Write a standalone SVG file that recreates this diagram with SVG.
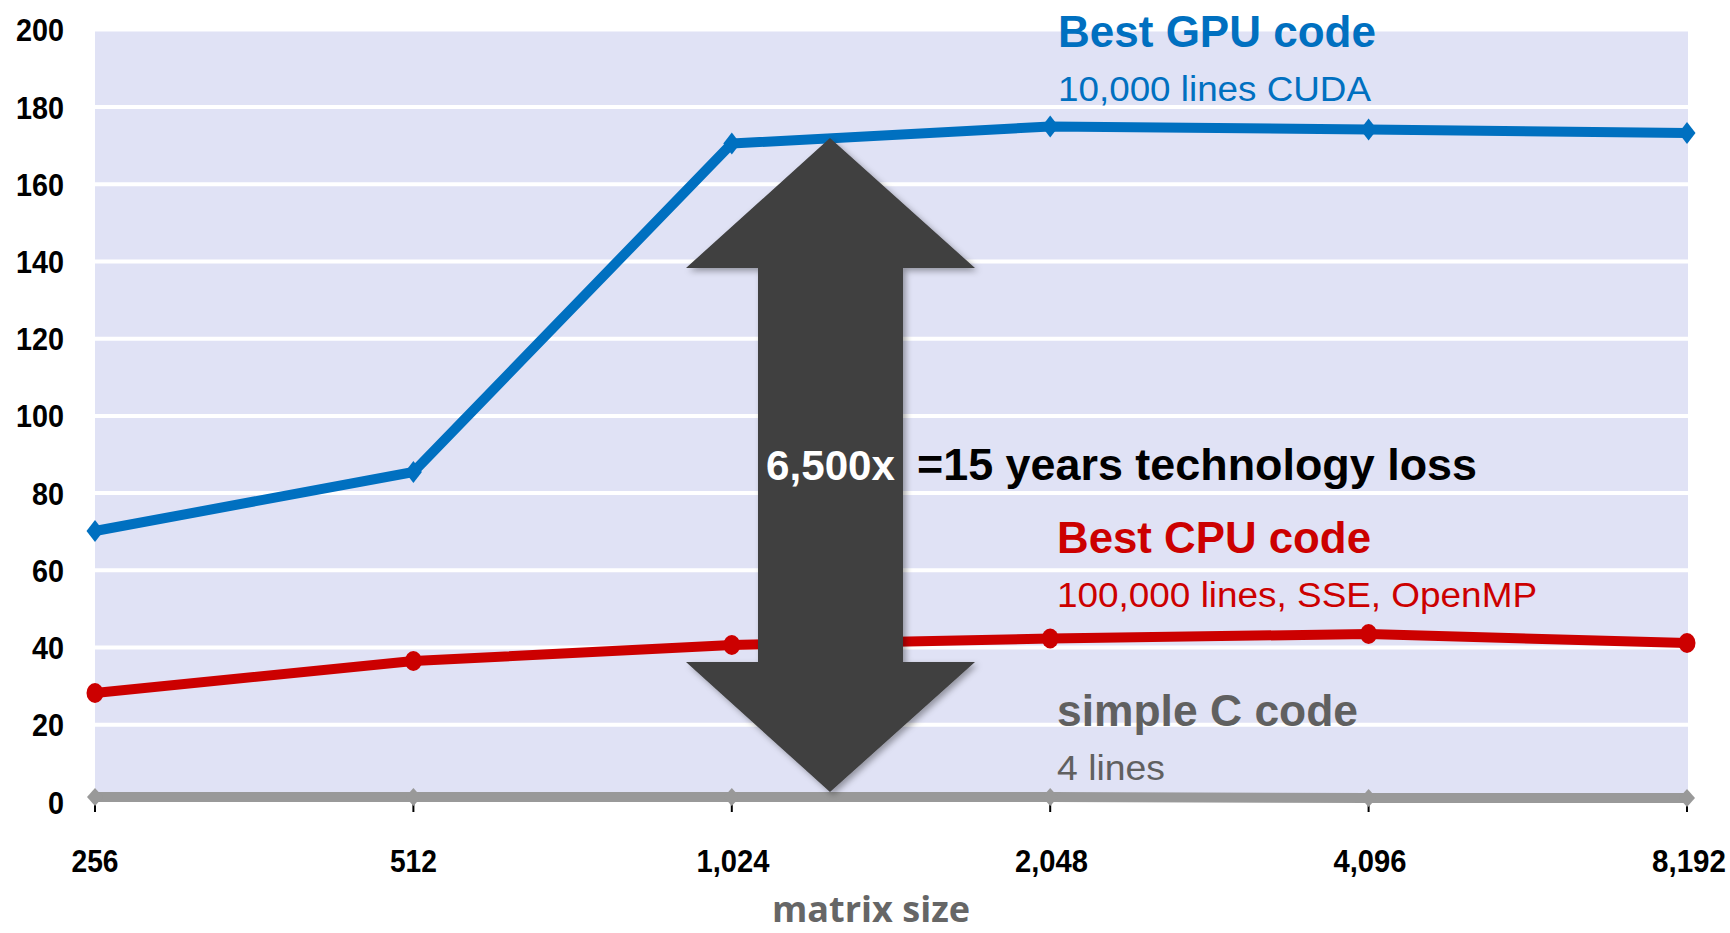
<svg xmlns="http://www.w3.org/2000/svg" width="1730" height="933" viewBox="0 0 1730 933">
  <defs>
    <style>
      .grid { stroke: #FFFFFF; stroke-width: 4; }
      .ylab { font-family: "Liberation Sans", Arial, sans-serif; font-weight: bold; font-size: 32px; fill: #000; text-anchor: end; }
      .xlab { font-family: "Liberation Sans", Arial, sans-serif; font-weight: bold; font-size: 32px; fill: #000; text-anchor: middle; }
      .tick { stroke: #000; stroke-width: 2; }
      .series { fill: none; stroke-width: 10; stroke-linejoin: round; stroke-linecap: butt; }
      .head { font-family: "Liberation Sans", Arial, sans-serif; font-weight: bold; font-size: 44px; }
      .sub { font-family: "Liberation Sans", Arial, sans-serif; font-size: 35px; }
    </style>
    <filter id="shadow" x="-20%" y="-10%" width="140%" height="120%">
      <feDropShadow dx="3" dy="3" stdDeviation="3" flood-color="#000" flood-opacity="0.35"/>
    </filter>
  </defs>

  <rect width="1730" height="933" fill="#FFFFFF"/>

  <g id="plot-area">
    <rect x="95" y="31.5" width="1593" height="770" fill="#E0E2F5"/>
    <line class="grid" x1="95" x2="1688" y1="724.8" y2="724.8"/>
    <line class="grid" x1="95" x2="1688" y1="647.6" y2="647.6"/>
    <line class="grid" x1="95" x2="1688" y1="570.3" y2="570.3"/>
    <line class="grid" x1="95" x2="1688" y1="493.1" y2="493.1"/>
    <line class="grid" x1="95" x2="1688" y1="415.9" y2="415.9"/>
    <line class="grid" x1="95" x2="1688" y1="338.7" y2="338.7"/>
    <line class="grid" x1="95" x2="1688" y1="261.5" y2="261.5"/>
    <line class="grid" x1="95" x2="1688" y1="184.2" y2="184.2"/>
    <line class="grid" x1="95" x2="1688" y1="107" y2="107"/>
  </g>

  <g id="y-axis">
    <text class="ylab" x="64" y="813.5" textLength="16" lengthAdjust="spacingAndGlyphs">0</text>
    <text class="ylab" x="64" y="736.3" textLength="32" lengthAdjust="spacingAndGlyphs">20</text>
    <text class="ylab" x="64" y="659.1" textLength="32" lengthAdjust="spacingAndGlyphs">40</text>
    <text class="ylab" x="64" y="581.8" textLength="32" lengthAdjust="spacingAndGlyphs">60</text>
    <text class="ylab" x="64" y="504.6" textLength="32" lengthAdjust="spacingAndGlyphs">80</text>
    <text class="ylab" x="64" y="427.4" textLength="48" lengthAdjust="spacingAndGlyphs">100</text>
    <text class="ylab" x="64" y="350.2" textLength="48" lengthAdjust="spacingAndGlyphs">120</text>
    <text class="ylab" x="64" y="273" textLength="48" lengthAdjust="spacingAndGlyphs">140</text>
    <text class="ylab" x="64" y="195.7" textLength="48" lengthAdjust="spacingAndGlyphs">160</text>
    <text class="ylab" x="64" y="118.5" textLength="48" lengthAdjust="spacingAndGlyphs">180</text>
    <text class="ylab" x="64" y="41.3" textLength="48" lengthAdjust="spacingAndGlyphs">200</text>
  </g>

  <g id="x-axis">
    <line class="tick" x1="95" x2="95" y1="800" y2="812"/>
    <line class="tick" x1="413.4" x2="413.4" y1="800" y2="812"/>
    <line class="tick" x1="731.8" x2="731.8" y1="800" y2="812"/>
    <line class="tick" x1="1050.2" x2="1050.2" y1="800" y2="812"/>
    <line class="tick" x1="1368.6" x2="1368.6" y1="800" y2="812"/>
    <line class="tick" x1="1687" x2="1687" y1="800" y2="812"/>
    <text class="xlab" x="95" y="872" textLength="47" lengthAdjust="spacingAndGlyphs">256</text>
    <text class="xlab" x="413.4" y="872" textLength="47" lengthAdjust="spacingAndGlyphs">512</text>
    <text class="xlab" x="733" y="872" textLength="73" lengthAdjust="spacingAndGlyphs">1,024</text>
    <text class="xlab" x="1051.5" y="872" textLength="73" lengthAdjust="spacingAndGlyphs">2,048</text>
    <text class="xlab" x="1370" y="872" textLength="73" lengthAdjust="spacingAndGlyphs">4,096</text>
    <text class="xlab" x="1689" y="872" textLength="74" lengthAdjust="spacingAndGlyphs">8,192</text>
    <text x="871" y="922" font-family="'Open Sans', 'Liberation Sans', sans-serif" font-weight="bold" font-size="35" fill="#666666" text-anchor="middle" textLength="198" lengthAdjust="spacingAndGlyphs">matrix size</text>
  </g>

  <g id="series-simple-c">
    <polyline class="series" stroke="#999999" points="95,797 413.4,797 731.8,797 1050.2,797 1368.6,798 1687,798"/>
    <g fill="#999999">
      <polygon points="87,797 95,788 103,797 95,806"/>
      <polygon points="405.4,797 413.4,788 421.4,797 413.4,806"/>
      <polygon points="723.8,797 731.8,788 739.8,797 731.8,806"/>
      <polygon points="1042.2,797 1050.2,788 1058.2,797 1050.2,806"/>
      <polygon points="1360.6,798 1368.6,789 1376.6,798 1368.6,807"/>
      <polygon points="1679,798 1687,789 1695,798 1687,807"/>
    </g>
  </g>

  <g id="series-cpu">
    <polyline class="series" stroke="#CC0000" points="95,693 413.4,661 731.8,645 1050.2,638.5 1368.6,634 1687,643"/>
    <g fill="#CC0000">
      <ellipse cx="95" cy="693" rx="8.5" ry="10"/>
      <ellipse cx="413.4" cy="661" rx="8.5" ry="10"/>
      <ellipse cx="731.8" cy="645" rx="8.5" ry="10"/>
      <ellipse cx="1050.2" cy="638.5" rx="8.5" ry="10"/>
      <ellipse cx="1368.6" cy="634" rx="8.5" ry="10"/>
      <ellipse cx="1687" cy="643" rx="8.5" ry="10"/>
    </g>
  </g>

  <g id="series-gpu">
    <polyline class="series" stroke="#0070C0" points="95,531 413.4,472 731.8,143.5 1050.2,126.5 1368.6,129.5 1687,133"/>
    <g fill="#0070C0">
      <polygon points="86.5,531 95,520 103.5,531 95,542"/>
      <polygon points="404.9,472 413.4,461 421.9,472 413.4,483"/>
      <polygon points="723.3,143.5 731.8,132.5 740.3,143.5 731.8,154.5"/>
      <polygon points="1041.7,126.5 1050.2,115.5 1058.7,126.5 1050.2,137.5"/>
      <polygon points="1360.1,129.5 1368.6,118.5 1377.1,129.5 1368.6,140.5"/>
      <polygon points="1678.5,133 1687,122 1695.5,133 1687,144"/>
    </g>
  </g>

  <g id="gap-arrow">
    <polygon points="830,138 975,268 903,268 903,662 975,662 830,792 686,662 758,662 758,268 686,268" fill="#404040" filter="url(#shadow)"/>
    <text x="830.5" y="480" font-family="'Liberation Sans', Arial, sans-serif" font-weight="bold" font-size="42" fill="#FFFFFF" text-anchor="middle" textLength="129" lengthAdjust="spacingAndGlyphs">6,500x</text>
  </g>

  <g id="gap-label">
    <text x="917" y="480" font-family="'Liberation Sans', Arial, sans-serif" font-weight="bold" font-size="44" fill="#000000" textLength="560" lengthAdjust="spacingAndGlyphs">=15 years technology loss</text>
  </g>

  <g id="label-gpu">
    <text class="head" x="1058" y="46.5" fill="#0070C0" textLength="318" lengthAdjust="spacingAndGlyphs">Best GPU code</text>
    <text class="sub" x="1058" y="100.7" fill="#0070C0" textLength="313" lengthAdjust="spacingAndGlyphs">10,000 lines CUDA</text>
  </g>

  <g id="label-cpu">
    <text class="head" x="1057" y="553" fill="#CC0000" textLength="314" lengthAdjust="spacingAndGlyphs">Best CPU code</text>
    <text class="sub" x="1057" y="607.3" fill="#CC0000" textLength="480" lengthAdjust="spacingAndGlyphs">100,000 lines, SSE, OpenMP</text>
  </g>

  <g id="label-simple-c">
    <text class="head" x="1057" y="725.7" fill="#606060" textLength="301" lengthAdjust="spacingAndGlyphs">simple C code</text>
    <text class="sub" x="1057" y="780" fill="#606060" textLength="108" lengthAdjust="spacingAndGlyphs">4 lines</text>
  </g>
</svg>
